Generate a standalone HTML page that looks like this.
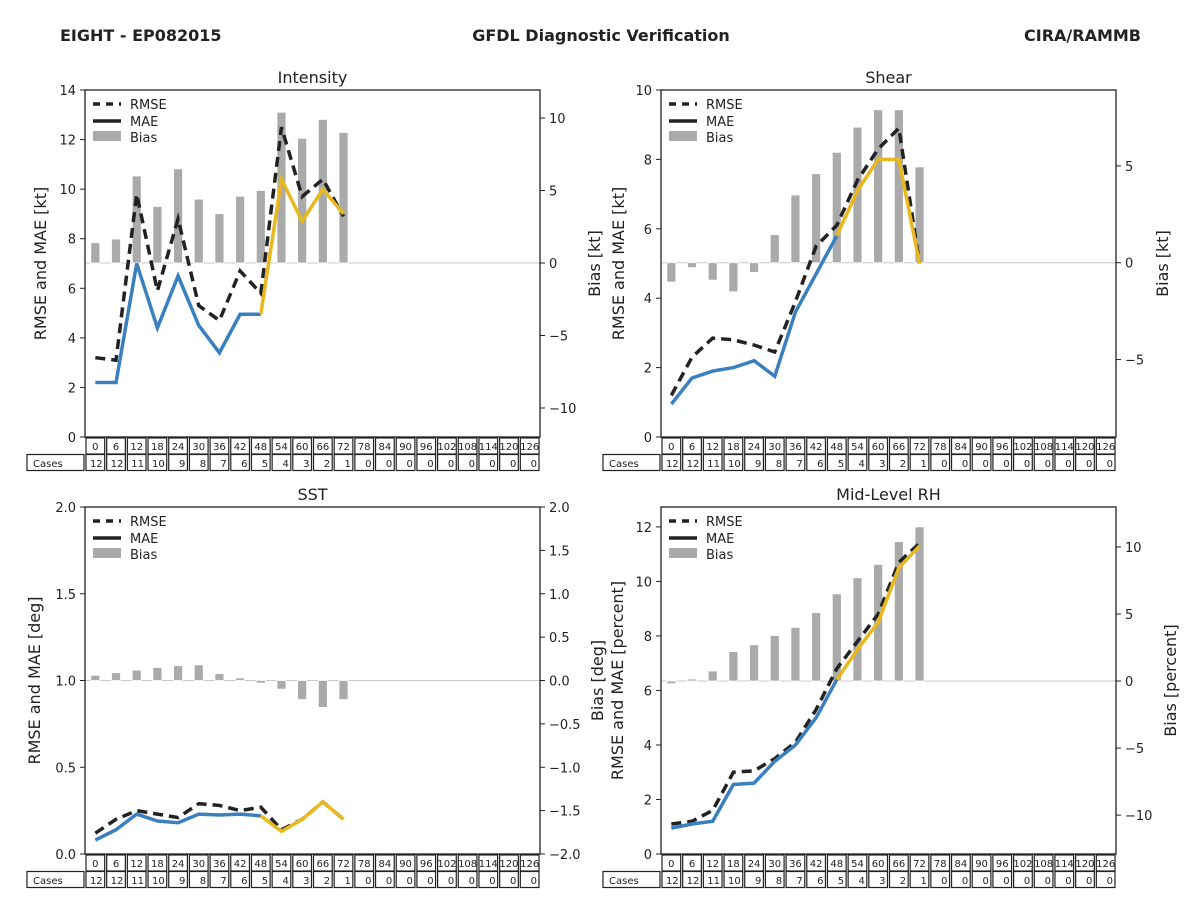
<!DOCTYPE html>
<html><head><meta charset="utf-8"><style>
body{margin:0;background:#fff;}
svg{display:block;font-family:"DejaVu Sans","Liberation Sans",sans-serif;}
</style></head><body>
<svg id="fig" width="1200" height="900" viewBox="0 0 1200 900">
<text x="60" y="41" font-size="16" font-weight="bold" fill="#222">EIGHT - EP082015</text>
<text x="601" y="41" font-size="16" font-weight="bold" fill="#222" text-anchor="middle">GFDL Diagnostic Verification</text>
<text x="1141" y="41" font-size="16" font-weight="bold" fill="#222" text-anchor="end">CIRA/RAMMB</text>
</svg>
<script>
const hours=[0,6,12,18,24,30,36,42,48,54,60,66,72,78,84,90,96,102,108,114,120,126];
const cases=[12,12,11,10,9,8,7,6,5,4,3,2,1,0,0,0,0,0,0,0,0,0];
const intRmse=[3.2,3.1,9.8,5.9,8.8,5.3,4.7,6.7,5.8,12.5,9.7,10.4,8.9];
const intMae=[2.2,2.2,7.0,4.4,6.5,4.5,3.4,4.95,4.95,10.4,8.7,10.0,9.0];
const intBias=[1.4,1.65,6.0,3.9,6.5,4.4,3.4,4.6,5.0,10.4,8.6,9.9,9.0];
const shRmse=[1.2,2.3,2.85,2.8,2.65,2.45,3.9,5.5,6.1,7.4,8.3,8.9,5.0];
const shMae=[0.95,1.7,1.9,2.0,2.2,1.75,3.6,4.7,5.8,7.1,8.0,8.0,5.0];
const shBias=[-1.0,-0.25,-0.9,-1.5,-0.5,1.45,3.5,4.6,5.7,7.0,7.9,7.9,4.95];
const sstRmse=[0.12,0.2,0.25,0.23,0.21,0.29,0.28,0.25,0.27,0.14,0.2,0.3,0.2];
const sstMae=[0.08,0.14,0.23,0.19,0.18,0.23,0.225,0.23,0.22,0.13,0.2,0.3,0.2];
const sstBias=[0.06,0.09,0.12,0.15,0.17,0.18,0.08,0.03,-0.03,-0.1,-0.22,-0.31,-0.22];
const rhRmse=[1.1,1.2,1.6,3.0,3.05,3.5,4.1,5.3,6.8,7.8,8.8,10.7,11.4];
const rhMae=[0.95,1.1,1.2,2.55,2.6,3.4,4.0,5.0,6.4,7.5,8.5,10.5,11.3];
const rhBias=[-0.2,0.15,0.75,2.2,2.7,3.4,4.0,5.1,6.5,7.7,8.7,10.4,11.5];

const NS='http://www.w3.org/2000/svg';
const svg=document.getElementById('fig');
function el(tag,attrs,parent,text){const e=document.createElementNS(NS,tag);for(const k in attrs)e.setAttribute(k,attrs[k]);if(text!==undefined)e.textContent=text;(parent||svg).appendChild(e);return e;}
function fmt(v,d){const s=Math.abs(v).toFixed(d);return (v<0?'\u2212':'')+s;}

const panels=[
 {key:'intensity',title:'Intensity',x0:85,y0:90,lmax:14,lticks:[0,2,4,6,8,10,12,14],ld:0,rmin:-12,rmax:11.93,rticks:[-10,-5,0,5,10],rd:0,llab:'RMSE and MAE [kt]',rlab:'Bias [kt]',llx:46,rlx:600,rmse:intRmse,mae:intMae,bias:intBias},
 {key:'shear',title:'Shear',x0:661,y0:90,lmax:10,lticks:[0,2,4,6,8,10],ld:0,rmin:-9,rmax:8.92,rticks:[-5,0,5],rd:0,llab:'RMSE and MAE [kt]',rlab:'Bias [kt]',llx:624,rlx:1168,rmse:shRmse,mae:shMae,bias:shBias},
 {key:'sst',title:'SST',x0:85,y0:507,lmax:2,lticks:[0,0.5,1,1.5,2],ld:1,rmin:-2,rmax:2,rticks:[-2,-1.5,-1,-0.5,0,0.5,1,1.5,2],rd:1,llab:'RMSE and MAE [deg]',rlab:'Bias [deg]',llx:40,rlx:603,rmse:sstRmse,mae:sstMae,bias:sstBias},
 {key:'rh',title:'Mid-Level RH',x0:661,y0:507,lmax:12.73,lticks:[0,2,4,6,8,10,12],ld:0,rmin:-12.9,rmax:12.98,rticks:[-10,-5,0,5,10],rd:0,llab:'RMSE and MAE [percent]',rlab:'Bias [percent]',llx:623,rlx:1176,rmse:rhRmse,mae:rhMae,bias:rhBias}
];
const W=455,H=347,NC=22,CW=W/NC;
panels.forEach(p=>{
 const g=el('g',{});
 
 
 const xs=i=>p.x0+CW*(i+0.5);
 const yl=v=>p.y0+H-v/p.lmax*H;
 const yr=v=>p.y0+(p.rmax-v)/(p.rmax-p.rmin)*H;
 const t=el('text',{x:p.x0+W/2,y:p.y0-7,'font-size':16,'text-anchor':'middle',fill:'#222'},g,p.title);
 
 el('line',{x1:p.x0,x2:p.x0+W,y1:yr(0),y2:yr(0),stroke:'#c8c8c8','stroke-width':1},g);
 p.bias.forEach((b,i)=>{
  const y1=yr(Math.max(b,0)),y2=yr(Math.min(b,0));
  const r=el('rect',{x:xs(i)-4.5,y:y1,width:9,height:Math.max(y2-y1,0.5),fill:'#aaaaaa',stroke:'#fff','stroke-width':0.8},g);
  
 });
 const rp=p.rmse.map((v,i)=>xs(i)+','+yl(v)).join(' ');
 const rl=el('polyline',{points:rp,fill:'none',stroke:'#222','stroke-width':3.5,'stroke-dasharray':'10,6'},g);
 
 const split=8;
 const mb=p.mae.slice(0,split+1).map((v,i)=>xs(i)+','+yl(v)).join(' ');
 const ml=el('polyline',{points:mb,fill:'none',stroke:'#3a80bf','stroke-width':3.5},g);
 
 const my=p.mae.map((v,i)=>[i,v]).slice(split).map(a=>xs(a[0])+','+yl(a[1])).join(' ');
 const yl2=el('polyline',{points:my,fill:'none',stroke:'#e8b81c','stroke-width':3.5},g);
 
 el('rect',{x:p.x0,y:p.y0,width:W,height:H,fill:'none',stroke:'#222','stroke-width':1.3},g);
 p.lticks.forEach(v=>{const y=yl(v);el('line',{x1:p.x0-5,x2:p.x0,y1:y,y2:y,stroke:'#222'},g);
  el('text',{x:p.x0-9,y:y+5,'font-size':13,'text-anchor':'end',fill:'#222'},g,fmt(v,p.ld));});
 p.rticks.forEach(v=>{const y=yr(v);el('line',{x1:p.x0+W,x2:p.x0+W+5,y1:y,y2:y,stroke:'#222'},g);
  el('text',{x:p.x0+W+9,y:y+5,'font-size':13,fill:'#222'},g,fmt(v,p.rd));});
 const la=el('text',{x:p.llx,y:p.y0+H/2,'font-size':16,'text-anchor':'middle',fill:'#222',transform:`rotate(-90 ${p.llx} ${p.y0+H/2})`},g,p.llab);
 
 const ra=el('text',{x:p.rlx,y:p.y0+H/2,'font-size':16,'text-anchor':'middle',fill:'#222',transform:`rotate(-90 ${p.rlx} ${p.y0+H/2})`},g,p.rlab);
 
 const lg=el('g',{},g);
 
 const lx=p.x0+8,ly=p.y0+14;
 el('line',{x1:lx,x2:lx+28,y1:ly,y2:ly,stroke:'#222','stroke-width':3.5,'stroke-dasharray':'7,6'},lg);
 el('text',{x:lx+37,y:ly+5,'font-size':13,fill:'#222'},lg,'RMSE');
 el('line',{x1:lx,x2:lx+28,y1:ly+17,y2:ly+17,stroke:'#222','stroke-width':3.5},lg);
 el('text',{x:lx+37,y:ly+22,'font-size':13,fill:'#222'},lg,'MAE');
 el('rect',{x:lx,y:ly+27,width:28,height:10,fill:'#aaaaaa'},lg);
 el('text',{x:lx+37,y:ly+38,'font-size':13,fill:'#222'},lg,'Bias');
 const tb=el('g',{},g);
 
 const ty=p.y0+H+1;
 el('rect',{x:p.x0-58,y:ty+16.5,width:57,height:16,fill:'none',stroke:'#222','stroke-width':1.2},tb);
 el('text',{x:p.x0-52,y:ty+29,'font-size':10,fill:'#222'},tb,'Cases');
 hours.forEach((h,i)=>{
  const cx=p.x0+CW*i;
  el('rect',{x:cx+1,y:ty,width:CW-2,height:16,fill:'none',stroke:'#222','stroke-width':1.2},tb);
  el('text',{x:cx+CW/2,y:ty+12,'font-size':10,'text-anchor':'middle',fill:'#222'},tb,String(h));
  el('rect',{x:cx+1,y:ty+16.5,width:CW-2,height:16,fill:'none',stroke:'#222','stroke-width':1.2},tb);
  el('text',{x:cx+CW-3,y:ty+29,'font-size':10,'text-anchor':'end',fill:'#222'},tb,String(cases[i]));
 });
});
</script>
</body></html>
